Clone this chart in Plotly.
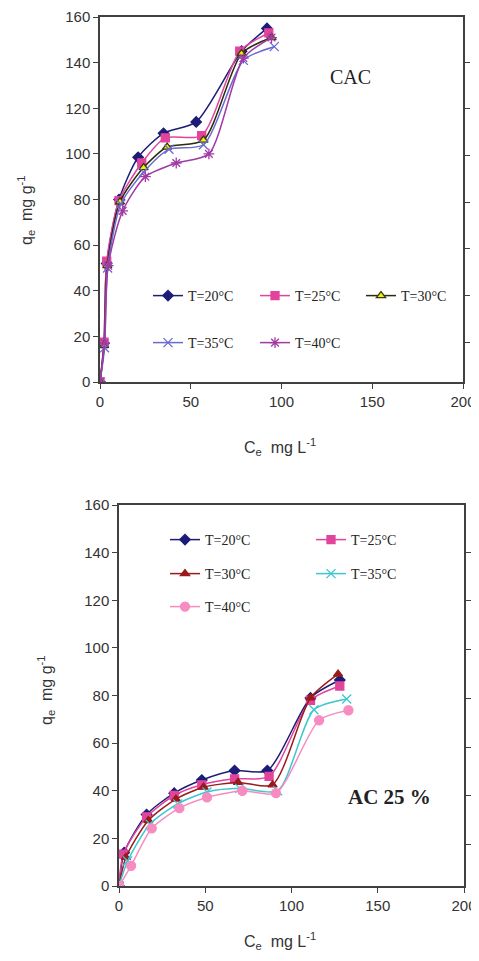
import plotly.graph_objects as go

PAGE_W, PAGE_H = 479, 961
BODY = 8  # default page margin around the figure
W, H = PAGE_W - 2 * BODY, PAGE_H - 2 * BODY

# ---------------- data: CAC (top panel) ----------------
temps = ["T=20°C", "T=25°C", "T=30°C", "T=35°C", "T=40°C"]

cac_ce_20 = [0, 2.2, 3.7, 10.5, 21, 35, 53, 78, 92]
cac_q_20 = [0, 17, 52, 80, 98.5, 109, 114, 145, 155]
cac_ce_25 = [0, 2.2, 3.7, 10.5, 23, 36, 56, 77, 93]
cac_q_25 = [0, 17.5, 53, 79.5, 96, 107, 108, 145, 153]
cac_ce_30 = [0, 2.3, 4.0, 11, 24, 37, 57, 78, 94.5]
cac_q_30 = [0, 16, 51, 79, 94, 103, 106, 144, 151]
cac_ce_35 = [0, 2.5, 4.2, 11.5, 24, 38, 57, 79, 96]
cac_q_35 = [0, 15, 50, 78, 92, 102, 104, 141, 147]
cac_ce_40 = [0, 2.5, 4.5, 12.5, 25, 42, 60, 79, 94.5]
cac_q_40 = [0, 17, 51, 75, 90, 96, 100, 142, 151]

# ---------------- data: AC 25 % (bottom panel) ----------------
ac_ce_20 = [0, 3, 16, 32, 48, 67, 86, 111, 128]
ac_q_20 = [0, 14, 30, 39, 44.5, 48.5, 48.5, 79, 86.5]
ac_ce_25 = [0, 2.5, 16, 32, 48, 67, 87, 111, 128]
ac_q_25 = [0, 13.4, 29, 38, 42.5, 45, 46, 78, 84]
ac_ce_30 = [0, 4, 17, 33, 49, 69, 89, 111, 127]
ac_q_30 = [0, 12, 27.5, 36.5, 41.5, 43.5, 42.5, 79, 89]
ac_ce_35 = [0, 5, 18, 34, 51, 70, 92, 113, 132]
ac_q_35 = [0, 10.5, 26, 34.5, 39.5, 41, 40, 74, 78.5]
ac_ce_40 = [0, 7, 19, 35, 51, 71.5, 91, 116, 133]
ac_q_40 = [0, 8.5, 24.2, 32.7, 37.2, 40, 39, 69.6, 73.8]

x_ticks = [0, 50, 100, 150, 200]
y_ticks = [0, 20, 40, 60, 80, 100, 120, 140, 160]

# ---------------- styles ----------------
top_styles = [
    dict(line="#1c1c78", sym="diamond", fill="#1c1c78", mline="#1c1c78", size=8),
    dict(line="#e2449c", sym="square", fill="#e2449c", mline="#e2449c", size=8),
    dict(line="#2b2b10", sym="triangle-up", fill="#f2f200", mline="#3a3a10", size=8),
    dict(line="#6a6ad0", sym="x-thin-open", fill="#6a6ad0", mline="#6a6ad0", size=9),
    dict(line="#a23aa6", sym="asterisk-open", fill="#a23aa6", mline="#a23aa6", size=9),
]
bot_styles = [
    dict(line="#1c1c78", sym="diamond", fill="#1c1c78", mline="#1c1c78", size=8),
    dict(line="#e2449c", sym="square", fill="#e2449c", mline="#e2449c", size=8),
    dict(line="#9a1a1a", sym="triangle-up", fill="#9a1a1a", mline="#9a1a1a", size=8),
    dict(line="#3cc6d0", sym="x-thin-open", fill="#3cc6d0", mline="#3cc6d0", size=9),
    dict(line="#f78cc0", sym="circle", fill="#f78cc0", mline="#f78cc0", size=9),
]

top_ce = [cac_ce_20, cac_ce_25, cac_ce_30, cac_ce_35, cac_ce_40]
top_q = [cac_q_20, cac_q_25, cac_q_30, cac_q_35, cac_q_40]
bot_ce = [ac_ce_20, ac_ce_25, ac_ce_30, ac_ce_35, ac_ce_40]
bot_q = [ac_q_20, ac_q_25, ac_q_30, ac_q_35, ac_q_40]

# legend entry positions on the page (left of symbol, centre y)
top_leg_pos = [(148, 296), (255, 296), (361, 296), (148, 343), (255, 343)]
bot_leg_pos = [(165, 540), (311, 540), (165, 574), (311, 574), (165, 607)]

fig = go.Figure()

def px_x(p):
    # page pixel -> paper fraction
    return (p - BODY) / W

def px_y(p):
    return (H - (p - BODY)) / H

leg_font = dict(family="Liberation Serif, Times New Roman, serif", size=14, color="#222222")
legend_layout = {}
leg_counter = [0]

def new_legend(pos):
    leg_counter[0] += 1
    key = "legend" if leg_counter[0] == 1 else "legend%d" % leg_counter[0]
    legend_layout[key] = dict(
        x=px_x(pos[0]), y=px_y(pos[1]), xanchor="left", yanchor="middle",
        orientation="v", font=leg_font, bgcolor="rgba(0,0,0,0)",
        borderwidth=0, itemwidth=30,
    )
    return key

def add_series(ce, q, name, st, xa, ya, pos):
    key = new_legend(pos)
    fig.add_trace(go.Scatter(
        x=ce, y=q, name=name, mode="lines+markers",
        line=dict(color=st["line"], width=1.5, shape="spline", smoothing=0.7),
        marker=dict(symbol=st["sym"], size=st["size"], color=st["fill"],
                    line=dict(color=st["mline"], width=1.3)),
        xaxis=xa, yaxis=ya, legend=key, showlegend=True,
    ))

for i in range(5):
    add_series(top_ce[i], top_q[i], temps[i], top_styles[i], "x", "y", top_leg_pos[i])
for i in range(5):
    add_series(bot_ce[i], bot_q[i], temps[i], bot_styles[i], "x2", "y3", bot_leg_pos[i])

# empty traces to activate right-side tick axes
fig.add_trace(go.Scatter(x=[], y=[], xaxis="x", yaxis="y2", showlegend=False))
fig.add_trace(go.Scatter(x=[], y=[], xaxis="x2", yaxis="y4", showlegend=False))

axis_col = "#404040"
tick_font = dict(family="Liberation Sans, Arial, sans-serif", size=15, color="#333333")

common_x = dict(range=[0, 200], tickvals=x_ticks, showline=True, linecolor=axis_col,
                linewidth=1.5, mirror=True, ticks="outside", ticklen=5, tickcolor=axis_col,
                tickfont=tick_font, showgrid=False, zeroline=False, fixedrange=True,
                automargin=False, ticklabeloverflow="allow")
common_y = dict(range=[0, 160], tickvals=y_ticks, showline=True, linecolor=axis_col,
                linewidth=1.5, mirror=True, ticks="outside", ticklen=5, tickcolor=axis_col,
                tickfont=tick_font, showgrid=False, zeroline=False, fixedrange=True,
                automargin=False, ticklabeloverflow="allow")
right_y = dict(range=[-0.85, 6.97], tickvals=[0, 1, 2, 3, 4, 5, 6], showticklabels=False,
               ticks="outside", ticklen=6, tickcolor=axis_col, showline=False,
               showgrid=False, zeroline=False, side="right", fixedrange=True,
               automargin=False)

fig.update_layout(
    width=W, height=H,
    margin=dict(l=0, r=0, t=0, b=0, pad=0, autoexpand=False),
    showlegend=True,
    paper_bgcolor="white", plot_bgcolor="white",
    xaxis=dict(domain=[px_x(100), px_x(463)], anchor="y", **common_x),
    yaxis=dict(domain=[px_y(382), px_y(17)], anchor="x", **common_y),
    yaxis2=dict(overlaying="y", anchor="x", **right_y),
    xaxis2=dict(domain=[px_x(119), px_x(464)], anchor="y3", **common_x),
    yaxis3=dict(domain=[px_y(886), px_y(505)], anchor="x2", **common_y),
    yaxis4=dict(overlaying="y3", anchor="x2", **right_y),
    **legend_layout,
)

title_font = dict(family="Liberation Sans, Arial, sans-serif", size=16, color="#333333")
ann = [
    dict(text="q<sub>e</sub>  mg g<sup>-1</sup>", x=px_x(26), y=px_y(210), textangle=-90,
         font=title_font),
    dict(text="C<sub>e</sub>  mg L<sup>-1</sup>", x=px_x(280), y=px_y(447), font=title_font),
    dict(text="q<sub>e</sub>  mg g<sup>-1</sup>", x=px_x(46), y=px_y(690), textangle=-90,
         font=title_font),
    dict(text="C<sub>e</sub>  mg L<sup>-1</sup>", x=px_x(280), y=px_y(941), font=title_font),
    dict(text="CAC", x=px_x(350), y=px_y(77),
         font=dict(family="Liberation Serif, Times New Roman, serif", size=20, color="#222222")),
    dict(text="<b>AC 25 %</b>", x=px_x(389), y=px_y(797),
         font=dict(family="Liberation Serif, Times New Roman, serif", size=21, color="#222222")),
]
for a in ann:
    a.update(xref="paper", yref="paper", showarrow=False, xanchor="center", yanchor="middle")
fig.update_layout(annotations=ann)

fig.write_html("out.html")
